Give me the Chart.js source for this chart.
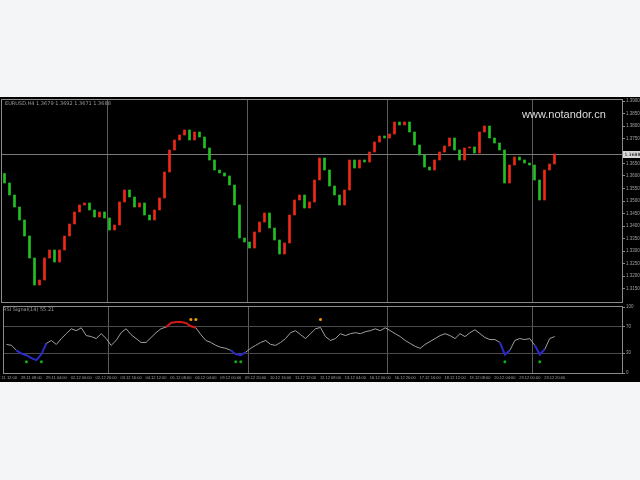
<!DOCTYPE html>
<html><head><meta charset="utf-8">
<script src="https://cdn.jsdelivr.net/npm/chart.js@4.4.1/dist/chart.umd.min.js"></script>
<style>
html,body{margin:0;padding:0;background:#f4f5f7;width:640px;height:480px;overflow:hidden;font-family:"DejaVu Sans",Arial,sans-serif;}
#panel{position:absolute;left:0;top:97px;width:640px;height:285px;background:#000;}
canvas{position:absolute;left:0;}
#c1{top:98px;} #c2{top:303px;}
.lbl{position:absolute;color:#9a9a9a;font-size:5px;line-height:6px;white-space:nowrap;}
#wm{position:absolute;left:522px;top:108px;color:#dcdcdc;font:11px "Liberation Sans",Arial,sans-serif;}
</style></head><body>
<div id="panel"></div>
<canvas id="c1" width="640" height="206"></canvas>
<canvas id="c2" width="640" height="79"></canvas>
<div class="lbl" style="left:5px;top:100px">EURUSD,H4 1.3679 1.3692 1.3671 1.3688</div>
<div class="lbl" style="left:3px;top:306px">RSI Signal(14) 55.21</div>
<div id="wm">www.notandor.cn</div>
<script>
const closes = [
 1.3572, 1.3524, 1.3476, 1.3424, 1.3360, 1.3272, 1.3164, 1.3184, 1.3272, 1.3304,
 1.3256, 1.3304, 1.3360, 1.3408, 1.3456, 1.3484, 1.3492, 1.3464, 1.3436, 1.3456,
 1.3432, 1.3384, 1.3404, 1.3496, 1.3544, 1.3516, 1.3476, 1.3492, 1.3444, 1.3424,
 1.3464, 1.3512, 1.3616, 1.3704, 1.3744, 1.3764, 1.3784, 1.3744, 1.3776, 1.3756,
 1.3712, 1.3664, 1.3624, 1.3612, 1.3600, 1.3564, 1.3484, 1.3352, 1.3336, 1.3312,
 1.3376, 1.3416, 1.3452, 1.3392, 1.3344, 1.3288, 1.3332, 1.3444, 1.3504, 1.3524,
 1.3472, 1.3496, 1.3584, 1.3672, 1.3624, 1.3560, 1.3524, 1.3484, 1.3544, 1.3664,
 1.3632, 1.3664, 1.3656, 1.3696, 1.3736, 1.3760, 1.3752, 1.3768, 1.3816, 1.3804,
 1.3816, 1.3776, 1.3724, 1.3684, 1.3636, 1.3624, 1.3664, 1.3696, 1.3720, 1.3752,
 1.3704, 1.3664, 1.3712, 1.3716, 1.3692, 1.3776, 1.3800, 1.3752, 1.3732, 1.3704,
 1.3572, 1.3644, 1.3676, 1.3664, 1.3652, 1.3644, 1.3584, 1.3504, 1.3624, 1.3648,
 1.3688];
const firstOpen = 1.3610;
const rsi = [
 43.3, 41.9, 34.4, 29.5, 27.0, 22.6, 19.6, 28.5, 44.8, 49.3,
 43.3, 52.2, 59.6, 67.0, 64.1, 68.5, 56.7, 55.2, 52.2, 59.6,
 52.2, 41.9, 49.3, 61.1, 67.0, 58.1, 52.2, 46.3, 46.3, 53.7,
 61.1, 67.0, 69.5, 75.9, 77.4, 77.4, 75.9, 70.8, 68.5, 58.1,
 49.3, 46.3, 41.9, 38.9, 37.4, 34.4, 28.5, 27.0, 31.5, 37.4,
 41.9, 46.3, 49.3, 43.3, 41.9, 46.3, 52.2, 61.1, 64.1, 58.1,
 52.2, 59.6, 67.0, 69.0, 55.2, 49.3, 52.2, 59.6, 56.7, 59.6,
 61.1, 59.6, 62.6, 64.1, 67.0, 64.1, 68.5, 64.1, 59.6, 55.2,
 49.3, 44.8, 40.4, 37.4, 43.3, 47.8, 52.2, 56.7, 59.6, 56.7,
 52.2, 59.6, 55.2, 61.1, 65.6, 59.6, 53.7, 50.7, 50.7, 46.3,
 28.0, 34.4, 49.3, 52.2, 50.7, 52.2, 41.9, 28.0, 35.9, 52.2,
 55.2];
const buyIdx = [4, 7, 46, 47, 100, 107];
const buyLevel = 17;
const sellIdx = [37, 38, 63];
const sellLevel = 81;
const priceTicks = ['1.3900','1.3850','1.3800','1.3750','1.3650','1.3600','1.3550','1.3500',
  '1.3450','1.3400','1.3350','1.3300','1.3250','1.3200','1.3150'];
const rsiTicks = [0, 30, 70, 100];
const timeTicks = ['27.11 12:00','28.11 08:00','29.11 04:00','02.12 00:00','02.12 20:00','03.12 16:00',
  '04.12 12:00','05.12 08:00','06.12 04:00','09.12 00:00','09.12 20:00','10.12 16:00','11.12 12:00',
  '12.12 08:00','13.12 04:00','16.12 00:00','16.12 20:00','17.12 16:00','18.12 12:00',
  '19.12 08:00','20.12 04:00','23.12 00:00','23.12 20:00'];
const sepIdx = [21, 49, 77, 106];
const SLOTS = 124;

const N = closes.length;
const labels = Array.from({length: SLOTS}, (_, i) => (i < N && i % 5 === 0) ? timeTicks[i / 5] : '');
const opens = closes.map((c, i) => i === 0 ? firstOpen : closes[i - 1]);
const buyData = closes.map((_, i) => buyIdx.includes(i) ? buyLevel : null);
const sellData = closes.map((_, i) => sellIdx.includes(i) ? sellLevel : null);

const AX = '#8a8a8a', TXT = '#a0a0a0';
const sepColor = c => (c.index !== undefined && sepIdx.includes(c.index)) ? '#5c5c5c' : 'rgba(0,0,0,0)';

const frame = {id: 'frame', afterDraw(chart) {
  const {ctx, chartArea: a} = chart;
  ctx.save(); ctx.strokeStyle = AX; ctx.lineWidth = 1;
  ctx.strokeRect(Math.round(a.left) - 0.5, Math.round(a.top) - 0.5, Math.round(a.right - a.left) + 1, Math.round(a.bottom - a.top) + 1);
  ctx.restore();
}};
const bid = {id: 'bid', beforeDatasetsDraw(chart) {
  const {ctx, chartArea: a, scales: {y}} = chart;
  const v = closes[N - 1];
  const py = Math.round(y.getPixelForValue(v)) + 0.5;
  ctx.save(); ctx.strokeStyle = '#7a7a7a'; ctx.lineWidth = 1;
  ctx.beginPath(); ctx.moveTo(a.left, py); ctx.lineTo(a.right, py); ctx.stroke();
  ctx.restore();
}, afterDraw(chart) {
  const {ctx, chartArea: a, scales: {y}} = chart;
  const v = closes[N - 1];
  const py = Math.round(y.getPixelForValue(v)) + 0.5;
  ctx.save(); ctx.fillStyle = '#d8d8d8'; ctx.fillRect(a.right + 1, py - 3.5, 17, 7);
  ctx.fillStyle = '#000'; ctx.font = '4.5px "DejaVu Sans"'; ctx.textBaseline = 'middle';
  ctx.fillText(v.toFixed(4), a.right + 2.5, py); ctx.restore();
}};

new Chart(document.getElementById('c1'), {
  type: 'bar',
  data: {labels, datasets: [{
    data: closes.map((c, i) => [opens[i], c]),
    backgroundColor: closes.map((c, i) => c >= opens[i] ? '#f02818' : '#22c022'),
    barThickness: 2, borderWidth: 0, grouped: false
  }]},
  options: {
    responsive: false, animation: false, devicePixelRatio: 1,
    layout: {padding: {left: 2, top: 2, bottom: 2, right: 0}},
    plugins: {legend: {display: false}, tooltip: {enabled: false}},
    scales: {
      x: {offset: true, grid: {offset: true, color: sepColor, drawTicks: false}, ticks: {display: false},
          border: {display: false}, afterFit: s => { s.height = 0; s.paddingLeft = 0; s.paddingRight = 0; }},
      y: {position: 'right', min: 1.3096, max: 1.3904,
          afterBuildTicks: s => { s.ticks = priceTicks.map(v => ({value: parseFloat(v)})); },
          ticks: {color: TXT, font: {size: 4.5}, padding: 1, callback: v => v.toFixed(4)},
          grid: {drawOnChartArea: false, color: AX, tickLength: 3}, border: {color: AX},
          afterFit: s => { s.width = 18; s.paddingTop = 0; s.paddingBottom = 0; }}
    }
  },
  plugins: [bid, frame]
});

new Chart(document.getElementById('c2'), {
  type: 'line',
  data: {labels, datasets: [
    {data: rsi, borderColor: '#a0a0a0', borderWidth: 1, pointRadius: 0, tension: 0,
     segment: {
       borderColor: c => { const a = c.p0.parsed.y, b = c.p1.parsed.y; if (a > 70 || b > 70) return '#d01818'; if (a < 30 || b < 30) return '#2a2ac8'; return undefined; },
       borderWidth: c => { const a = c.p0.parsed.y, b = c.p1.parsed.y; return (a > 70 || b > 70 || a < 30 || b < 30) ? 2 : undefined; }
     }},
    {data: buyData, showLine: false, pointRadius: 1.5, pointBackgroundColor: '#10b010', pointBorderWidth: 0},
    {data: sellData, showLine: false, pointRadius: 1.5, pointBackgroundColor: '#f0a000', pointBorderWidth: 0}
  ]},
  options: {
    responsive: false, animation: false, devicePixelRatio: 1,
    layout: {padding: {left: 2, top: 1, bottom: 0, right: 0}},
    plugins: {legend: {display: false}, tooltip: {enabled: false}},
    scales: {
      x: {offset: true, grid: {offset: true, color: sepColor, drawTicks: false}, border: {display: false},
          ticks: {autoSkip: false, maxRotation: 0, minRotation: 0, color: TXT, font: {size: 4}, padding: 2},
          afterFit: s => { s.height = 9; s.paddingLeft = 0; s.paddingRight = 0; }},
      y: {position: 'right', min: 0, max: 100,
          afterBuildTicks: s => { s.ticks = rsiTicks.map(v => ({value: v})); },
          ticks: {color: TXT, font: {size: 4.5}, padding: 1},
          grid: {color: c => (c.tick && (c.tick.value === 30 || c.tick.value === 70)) ? '#4a4a4a' : 'rgba(0,0,0,0)', tickColor: AX, tickLength: 3},
          border: {color: AX},
          afterFit: s => { s.width = 18; s.paddingTop = 0; s.paddingBottom = 0; }}
    }
  },
  plugins: [frame]
});
</script>
</body></html>
